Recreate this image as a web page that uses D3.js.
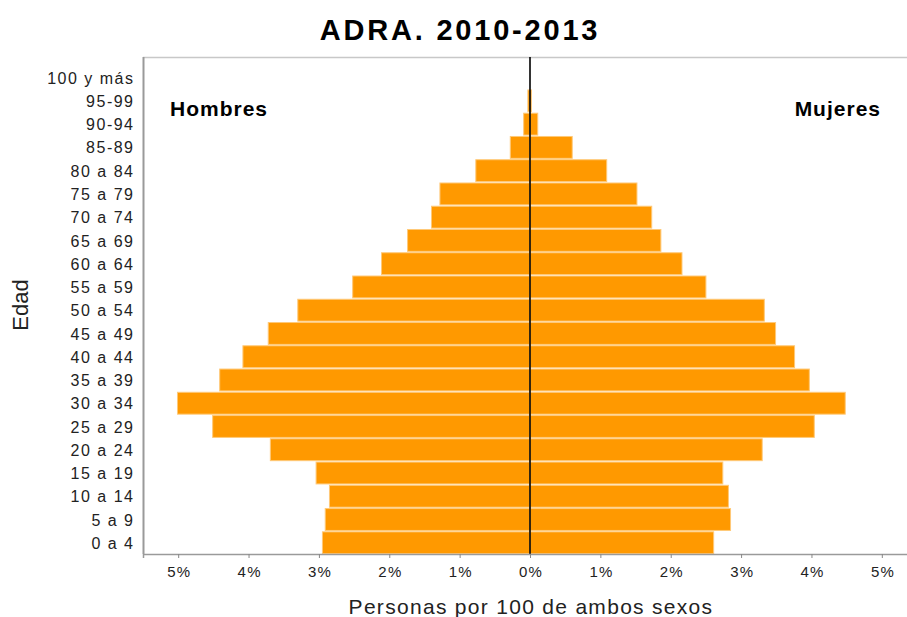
<!DOCTYPE html>
<html>
<head>
<meta charset="utf-8">
<script src="https://cdn.jsdelivr.net/npm/d3@7"></script>
<style>
  html, body { margin: 0; padding: 0; background: #fff; }
  svg { display: block; font-family: "Liberation Sans", Arial, sans-serif; }
</style>
</head>
<body>
<svg id="chart" width="907" height="617"></svg>
<script>
// Age groups, youngest first
const ageGroups = ["0 a 4", "5 a 9", "10 a 14", "15 a 19", "20 a 24", "25 a 29", "30 a 34",
  "35 a 39", "40 a 44", "45 a 49", "50 a 54", "55 a 59", "60 a 64", "65 a 69", "70 a 74",
  "75 a 79", "80 a 84", "85-89", "90-94", "95-99", "100 y más"];

// Persons per 100 of both sexes
const hombres = [2.95, 2.91, 2.85, 3.04, 3.69, 4.51, 5.01, 4.41, 4.08, 3.72, 3.30, 2.52,
  2.11, 1.74, 1.40, 1.28, 0.77, 0.28, 0.09, 0.03, 0.0];
const mujeres = [2.61, 2.85, 2.82, 2.74, 3.30, 4.04, 4.48, 3.97, 3.76, 3.49, 3.33, 2.50,
  2.16, 1.86, 1.73, 1.52, 1.09, 0.60, 0.11, 0.02, 0.0];

const xTicks = [-5, -4, -3, -2, -1, 0, 1, 2, 3, 4, 5];

const svg = d3.select("#chart");
const plot = { left: 143, right: 917, top: 57, bottom: 554 };

const x = d3.scaleLinear().domain([-5.5, 5.5]).range([plot.left, plot.right]);
const y = d3.scaleBand().domain(ageGroups).range([553.7, 66.7]).paddingInner(0.06);

// Plot frame
svg.append("line").attr("x1", plot.left).attr("x2", plot.right)
  .attr("y1", plot.top + 0.5).attr("y2", plot.top + 0.5)
  .attr("stroke", "#c8c8c8").attr("stroke-width", 1.5);
svg.append("line").attr("x1", plot.left + 0.5).attr("x2", plot.left + 0.5)
  .attr("y1", plot.top).attr("y2", plot.bottom)
  .attr("stroke", "#9a9a9a").attr("stroke-width", 2);

// Bars
const rows = ageGroups.map((g, i) => ({ g, h: hombres[i], m: mujeres[i] }));
const barStyle = sel => sel.attr("fill", "#ff9900").attr("stroke", "#ffc978").attr("stroke-width", 1);

svg.append("g").selectAll("rect.h").data(rows.filter(d => d.h > 0)).join("rect")
  .attr("class", "h")
  .attr("x", d => x(-d.h)).attr("width", d => x(0) - x(-d.h))
  .attr("y", d => y(d.g)).attr("height", y.bandwidth())
  .call(barStyle);

svg.append("g").selectAll("rect.m").data(rows.filter(d => d.m > 0)).join("rect")
  .attr("class", "m")
  .attr("x", x(0)).attr("width", d => x(d.m) - x(0))
  .attr("y", d => y(d.g)).attr("height", y.bandwidth())
  .call(barStyle);

// Centre line
svg.append("line").attr("x1", x(0)).attr("x2", x(0))
  .attr("y1", plot.top).attr("y2", plot.bottom)
  .attr("stroke", "#000").attr("stroke-width", 1.6);

// X axis
const xAxis = d3.axisBottom(x).tickValues(xTicks)
  .tickFormat(d => Math.abs(d) + "%").tickSize(4).tickPadding(8);
const gx = svg.append("g").attr("transform", `translate(0,${plot.bottom})`).call(xAxis);
gx.select(".domain").attr("stroke", "#9a9a9a").attr("stroke-width", 1.5);
gx.selectAll(".tick line").attr("stroke", "#888");
gx.selectAll("text").attr("font-size", 15).attr("fill", "#222").attr("letter-spacing", 1.2)
  .attr("dx", 0.6).attr("font-family", "Liberation Sans, Arial, sans-serif");

// Y labels
svg.append("g").selectAll("text").data(ageGroups).join("text")
  .attr("x", 134.5).attr("y", d => y(d) + y.bandwidth() / 2)
  .attr("dy", "0.38em").attr("text-anchor", "end")
  .attr("font-size", 16).attr("letter-spacing", 1.5).attr("fill", "#222")
  .text(d => d);

// Titles
svg.append("text").attr("x", 460).attr("y", 40).attr("text-anchor", "middle")
  .attr("font-size", 29).attr("font-weight", "bold").attr("letter-spacing", 2.8).attr("fill", "#000")
  .text("ADRA. 2010-2013");

svg.append("text").attr("x", 170).attr("y", 116)
  .attr("font-size", 21).attr("font-weight", "bold").attr("letter-spacing", 1).attr("fill", "#000")
  .text("Hombres");
svg.append("text").attr("x", 881).attr("y", 116).attr("text-anchor", "end")
  .attr("font-size", 21).attr("font-weight", "bold").attr("letter-spacing", 1).attr("fill", "#000")
  .text("Mujeres");

svg.append("text").attr("x", x(0) + 1).attr("y", 614).attr("text-anchor", "middle")
  .attr("font-size", 21).attr("letter-spacing", 1.3).attr("fill", "#222")
  .text("Personas por 100 de ambos sexos");

svg.append("text").attr("transform", "translate(28,305) rotate(-90)")
  .attr("text-anchor", "middle").attr("font-size", 22).attr("fill", "#222")
  .text("Edad");
</script>
</body>
</html>
